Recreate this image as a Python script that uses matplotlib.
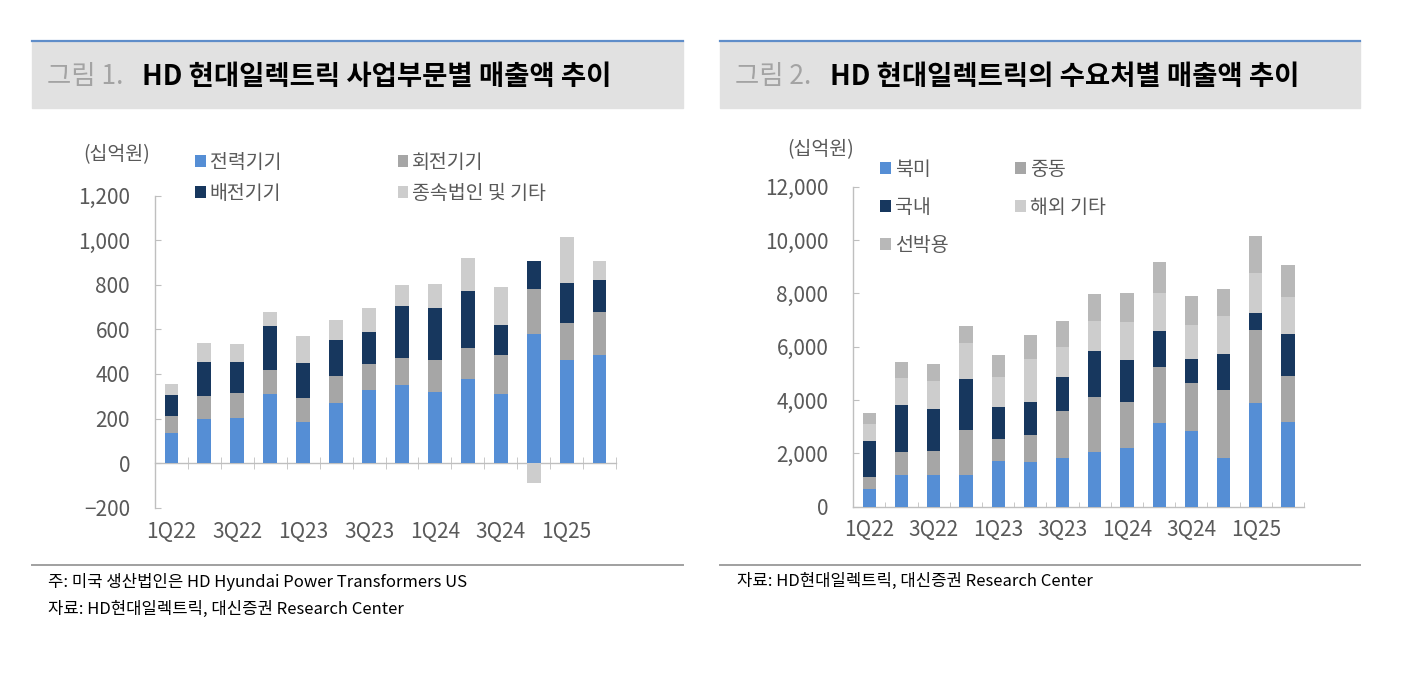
import matplotlib
matplotlib.use('Agg')
import matplotlib.pyplot as plt
import numpy as np
from matplotlib.patches import Rectangle
from matplotlib.lines import Line2D
from matplotlib.ticker import FuncFormatter

plt.rcParams['font.family'] = ['Noto Sans CJK KR', 'DejaVu Sans']

quarters = ['1Q22', '2Q22', '3Q22', '4Q22', '1Q23', '2Q23', '3Q23', '4Q23',
            '1Q24', '2Q24', '3Q24', '4Q24', '1Q25', '2Q25']

# 그림 1: 사업부문별 매출액 (십억원)
power_equip = [134, 197, 201, 309, 183, 269, 327, 350, 317, 377, 312, 579, 462, 483]
rotating_equip = [78, 106, 114, 110, 110, 123, 117, 121, 144, 141, 174, 203, 168, 194]
distribution_equip = [92, 150, 138, 198, 156, 159, 143, 236, 237, 254, 132, 123, 180, 144]
subsidiary_other = [50, 88, 83, 61, 120, 93, 108, 92, 105, 149, 173, -89, 206, 86]
names1 = ['전력기기', '회전기기', '배전기기', '종속법인 및 기타']

# 그림 2: 수요처별 매출액 (십억원)
north_america = [662, 1200, 1188, 1188, 1725, 1675, 1825, 2050, 2212, 3150, 2838, 1825, 3888, 3175]
middle_east = [463, 838, 900, 1700, 813, 1000, 1750, 2075, 1726, 2075, 1800, 2550, 2737, 1737]
domestic = [1337, 1787, 1574, 1912, 1200, 1237, 1287, 1700, 1562, 1350, 912, 1350, 650, 1563]
overseas_other = [638, 1000, 1050, 1338, 1124, 1613, 1138, 1137, 1425, 1437, 1262, 1413, 1487, 1387]
marine = [425, 587, 650, 650, 826, 913, 950, 1013, 1100, 1163, 1088, 1024, 1388, 1213]
names2 = ['북미', '중동', '국내', '해외 기타', '선박용']

BLUE = '#558ed5'
GRAY = '#a6a6a6'
NAVY = '#17375e'
LIGHT = '#cdcdcd'
MID = '#b8b8b8'
AXC = '#bfbfbf'
TXT = '#595959'

W, H = 1411, 673
fig = plt.figure(figsize=(W / 100, H / 100), dpi=100)


def fx(px):
    return px / W


def fy(py):
    return 1 - py / H


def stacked(ax, series, colors, width):
    x = np.arange(len(quarters))
    pos = np.zeros(len(quarters))
    neg = np.zeros(len(quarters))
    handles = []
    for vals, c in zip(series, colors):
        v = np.array(vals, dtype=float)
        bottom = np.where(v >= 0, pos, neg)
        h = ax.bar(x, v, width, bottom=bottom, color=c, zorder=3)
        pos = np.where(v >= 0, pos + v, pos)
        neg = np.where(v < 0, neg + v, neg)
        handles.append(h)
    return handles


def style_axis(ax, ymin, ymax, step, xpad, minor_len, minor_dir):
    n = len(quarters)
    ax.set_xlim(-0.5, n - 0.5)
    ax.set_ylim(ymin, ymax)
    ax.set_yticks(np.arange(ymin, ymax + 1, step))
    ax.yaxis.set_major_formatter(FuncFormatter(lambda v, p: f'{v:,.0f}'.replace('-', '\u2212')))
    for s in ['top', 'right']:
        ax.spines[s].set_visible(False)
    for s in ['left', 'bottom']:
        ax.spines[s].set_color(AXC)
        ax.spines[s].set_linewidth(1.0)
    ax.spines['bottom'].set_position(('data', 0))
    ax.set_xticks(np.arange(n)[::2], quarters[::2])
    ax.set_xticks(np.arange(-0.5, n), minor=True)
    ax.tick_params(axis='x', which='major', length=0, pad=xpad, labelsize=15, labelcolor=TXT)
    ax.tick_params(axis='x', which='minor', length=minor_len, direction=minor_dir, color=AXC)
    ax.tick_params(axis='y', direction='in', length=4.5, color=AXC, pad=18,
                   labelsize=15, labelcolor=TXT)


def panel_frame(x0, x1, num, title):
    fig.patches.append(Rectangle((fx(x0), fy(108)), fx(x1) - fx(x0), (108 - 41) / H,
                                 transform=fig.transFigure, color='#e1e1e1', zorder=0))
    fig.lines.append(Line2D([fx(x0), fx(x1)], [fy(41), fy(41)], transform=fig.transFigure,
                            color='#5f8dc9', lw=1.6))
    fig.lines.append(Line2D([fx(x0), fx(x1)], [fy(565), fy(565)], transform=fig.transFigure,
                            color='#a0a0a0', lw=1.4))
    fig.text(fx(x0 + 15), fy(77), num, fontsize=19, color='#a3a3a3', va='center', ha='left')
    fig.text(fx(x0 + 110), fy(77), title, fontsize=19.8, fontweight='bold', color='black',
             va='center', ha='left')


# ---- 그림 1 ----
panel_frame(32, 683, '그림 1.', 'HD 현대일렉트릭 사업부문별 매출액 추이')
ax1 = fig.add_axes([fx(155), fy(507.7), fx(616) - fx(155), (507.7 - 195.7) / H])
h1 = stacked(ax1, [power_equip, rotating_equip, distribution_equip, subsidiary_other],
             [BLUE, GRAY, NAVY, LIGHT], 0.42)
style_axis(ax1, -200, 1200, 200, 42, 8, 'inout')
fig.text(fx(83), fy(155), '(십억원)', fontsize=14, color=TXT, va='center', ha='left')
order1 = [0, 2, 1, 3]
ax1.legend([h1[i] for i in order1], [names1[i] for i in order1], ncol=2,
           loc='upper left', bbox_to_anchor=(fx(195), fy(152)), bbox_transform=fig.transFigure,
           frameon=False, fontsize=14, labelcolor=TXT, handlelength=0.55, handleheight=0.55,
           handletextpad=0.2, columnspacing=6.0, labelspacing=0.5, borderpad=0, borderaxespad=0)
fig.text(fx(48), fy(582), '주: 미국 생산법인은 HD Hyundai Power Transformers US',
         fontsize=12, color='black', va='center', ha='left')
fig.text(fx(48), fy(609), '자료: HD현대일렉트릭, 대신증권 Research Center',
         fontsize=12, color='black', va='center', ha='left')

# ---- 그림 2 ----
panel_frame(720, 1360, '그림 2.', 'HD 현대일렉트릭의 수요처별 매출액 추이')
ax2 = fig.add_axes([fx(853.3), fy(506.7), fx(1304) - fx(853.3), (506.7 - 186.7) / H])
h2 = stacked(ax2, [north_america, middle_east, domestic, overseas_other, marine],
             [BLUE, GRAY, NAVY, LIGHT, MID], 0.41)
style_axis(ax2, 0, 12000, 2000, 9, 3.5, 'in')
fig.text(fx(787), fy(150), '(십억원)', fontsize=14, color=TXT, va='center', ha='left')
order2 = [0, 2, 4, 1, 3]
ax2.legend([h2[i] for i in order2], [names2[i] for i in order2], ncol=2,
           loc='upper left', bbox_to_anchor=(fx(880), fy(159)), bbox_transform=fig.transFigure,
           frameon=False, fontsize=14, labelcolor=TXT, handlelength=0.55, handleheight=0.55,
           handletextpad=0.2, columnspacing=3.45, labelspacing=0.88, borderpad=0, borderaxespad=0)
fig.text(fx(737), fy(581), '자료: HD현대일렉트릭, 대신증권 Research Center',
         fontsize=12, color='black', va='center', ha='left')

fig.savefig('out.png', dpi=100)
